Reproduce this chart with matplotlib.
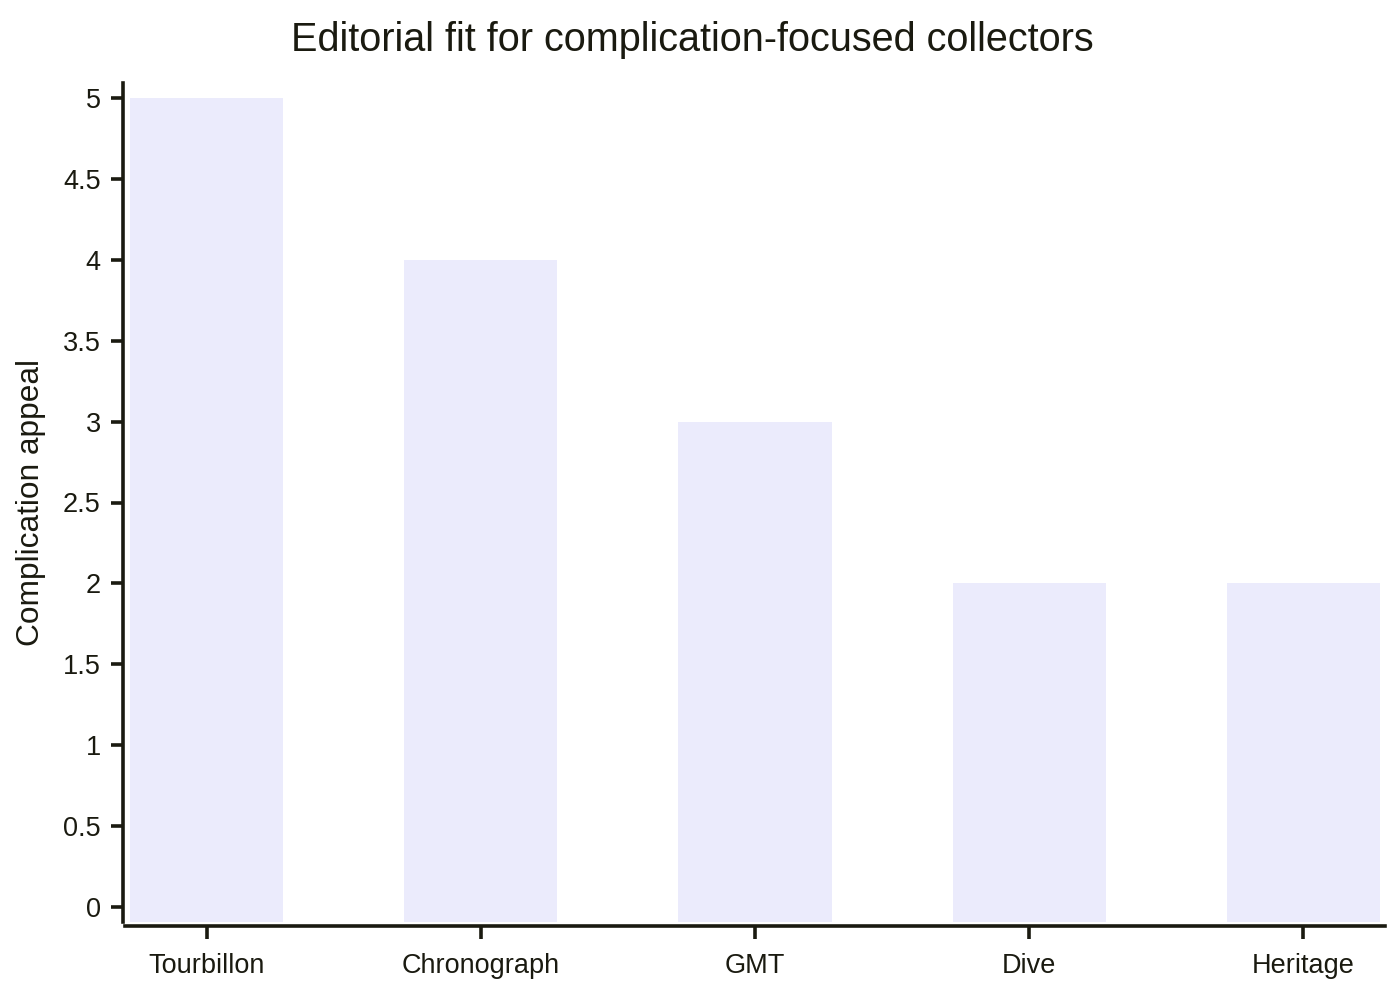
import matplotlib
matplotlib.use("Agg")
import matplotlib.pyplot as plt

categories = ["Tourbillon", "Chronograph", "GMT", "Dive", "Heritage"]
appeal = [5, 4, 3, 2, 2]
y_ticks = [0, 0.5, 1, 1.5, 2, 2.5, 3, 3.5, 4, 4.5, 5]

ink = "#1a1a10"
bar_color = "#ebebfc"

plt.rcParams["font.family"] = ["Liberation Sans", "DejaVu Sans"]

fig = plt.figure(figsize=(14, 10), dpi=100)
# axes box in pixels: x 130..1380, y 83..922
ax = fig.add_axes([130 / 1400, 78 / 1000, 1250 / 1400, 839 / 1000])

ymin, ymax = -0.093, 5.093
ax.set_ylim(ymin, ymax)
ax.set_xlim(-0.279, 4.279)

xs = list(range(len(categories)))
ax.bar(xs, [v - ymin for v in appeal], bottom=ymin, width=0.558,
       color=bar_color, linewidth=0, zorder=1)

ax.set_xticks(xs)
ax.set_xticklabels(categories)
ax.set_yticks(y_ticks)
ax.set_yticklabels([f"{t:g}" for t in y_ticks])

for side in ("top", "right"):
    ax.spines[side].set_visible(False)
ax.spines["left"].set_position(("outward", 5))
ax.spines["bottom"].set_position(("outward", 3))
ax.spines["bottom"].set_bounds(-0.297, 4.297)
for side in ("left", "bottom"):
    ax.spines[side].set_linewidth(2.6)
    ax.spines[side].set_color(ink)

ax.tick_params(axis="y", length=9, width=2.6, color=ink, pad=7,
               labelsize=19.5, labelcolor=ink)
ax.tick_params(axis="x", length=9, width=2.6, color=ink, pad=10,
               labelsize=19.5, labelcolor=ink)

ax.set_ylabel("Complication appeal", fontsize=22.8, color=ink, labelpad=12)
fig.text(692 / 1400, 1 - 40 / 1000, "Editorial fit for complication-focused collectors",
         ha="center", va="center", fontsize=28.5, color=ink)

fig.savefig("out.png", dpi=100, facecolor="white")
